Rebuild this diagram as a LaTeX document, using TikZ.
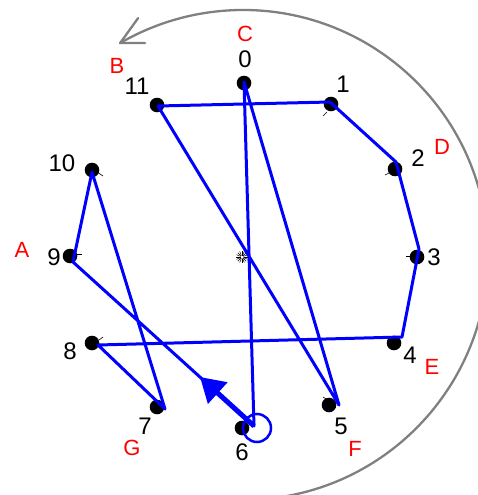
\documentclass[tikz,border=0pt]{standalone}
\usepackage{fontspec}
\setmainfont{Liberation Sans}
\usetikzlibrary{arrows.meta}
\definecolor{arcgray}{RGB}{128,128,128}
\begin{document}
\begin{tikzpicture}[x=1pt,y=-1pt,
  dot/.style={circle,fill=black,inner sep=0pt,minimum size=14.6pt},
  num/.style={inner sep=0pt,font=\fontsize{24}{24}\selectfont},
  letter/.style={inner sep=0pt,text=red,font=\fontsize{22}{22}\selectfont},
  blueline/.style={draw=blue,line width=3pt,line join=round},
  tickmark/.style={line width=0.6pt},
  arcline/.style={draw=arcgray,line width=2.3pt,line cap=round,line join=round}]
\useasboundingbox (0,0) rectangle (478,495);
\clip (0,0) rectangle (478,495);

% outer arc with arrow
\coordinate (ctr) at (243,255);
\draw[arcline] (ctr) ++(85:245) arc[start angle=85,end angle=-120.1,radius=245];
\coordinate (arcend) at (120.1,43.1);
\draw[arcline] (arcend) ++(18,-25) -- (arcend) -- ++(25,0);

% dots
\node[dot] (d0) at (244,83) {};
\node[dot] (d1) at (331,104) {};
\node[dot] (d2) at (395,169) {};
\node[dot] (d3) at (417,257) {};
\node[dot] (d4) at (394,343) {};
\node[dot] (d5) at (329,405) {};
\node[dot] (d6) at (242,428) {};
\node[dot] (d7) at (157,407) {};
\node[dot] (d8) at (92,343) {};
\node[dot] (d9) at (70,256) {};
\node[dot] (d10) at (92,170) {};
\node[dot] (d11) at (157,105) {};

% small ticks
\draw[tickmark] (327,112) -- (323,116);
\draw[tickmark] (389,173) -- (385,175);
\draw[tickmark] (406,256) -- (411,256);
\draw[tickmark] (323,397) -- (326,399);
\draw[tickmark] (99,340) -- (103,337);
\draw[tickmark] (75,254) -- (82,254);
\draw[tickmark] (97,172) -- (103,176);
\coordinate (hub) at (242,257);
\foreach \a in {0,22.5,...,337.5} \draw[line width=0.5pt] (hub) ++(\a:1.5) -- ++(\a:4.5);

% numbers
\node[num] (n0) at (245,59) {0};
\node[num] (n1) at (343,84) {1};
\node[num] (n2) at (418,158) {2};
\node[num] (n3) at (434,257) {3};
\node[num] (n4) at (410,355) {4};
\node[num] (n5) at (341,426) {5};
\node[num] (n6) at (242,452) {6};
\node[num] (n7) at (145,426) {7};
\node[num] (n8) at (70,351) {8};
\node[num] (n9) at (54,257) {9};
\node[num] (n10) at (62,163) {10};
\node[num] (n11) at (137,86) {11};

% letters
\node[letter] (lA) at (22,250) {A};
\node[letter] (lB) at (117,66) {B};
\node[letter] (lC) at (245,34) {C};
\node[letter] (lD) at (442,147) {D};
\node[letter] (lE) at (432,367) {E};
\node[letter] (lF) at (355,449) {F};
\node[letter] (lG) at (132,448) {G};

% blue tour
\coordinate (b0) at (244,82);
\coordinate (b1) at (330,102);
\coordinate (b2) at (396,162);
\coordinate (b3) at (419,249);
\coordinate (b4) at (402,337);
\coordinate (b5) at (339,405);
\coordinate (b6) at (254,426);
\coordinate (b7) at (165,409);
\coordinate (b8) at (98,345);
\coordinate (b9) at (73,262);
\coordinate (b10) at (92,172);
\coordinate (b11) at (158,106);
\draw[blueline] (b6) -- (b9) -- (b10) -- (b7) -- (b8) -- (b4) -- (b3) -- (b2) -- (b1) -- (b11) -- (b5) -- (b0) -- cycle;

% start marker and direction arrow
\node[circle,draw=blue,line width=2.5pt,minimum size=28pt,inner sep=0pt] (ring) at (257,428) {};
\coordinate (atip) at (200,377);
\draw[blue,line width=5pt,-{Triangle[length=24pt,width=28pt]}] (b6) -- (atip);
\end{tikzpicture}
\end{document}
